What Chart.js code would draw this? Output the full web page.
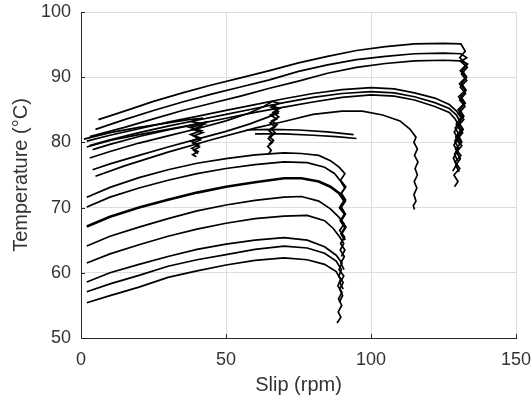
<!DOCTYPE html>
<html>
<head>
<meta charset="utf-8">
<script src="https://cdn.jsdelivr.net/npm/chart.js@4"></script>
<style>
  body { margin: 0; background: #fff; }
  canvas { display: block; }
</style>
</head>
<body>
<canvas id="slipChart" width="531" height="403"></canvas>
<script>
// axis ticks
const xTicks = [0, 50, 100, 150];
const yTicks = [50, 60, 70, 80, 90, 100];

// runs that stop at ~90 rpm (low start temps)
const low1 = [[2,55.4],[10,56.5],[20,57.8],[30,59.3],[40,60.3],[50,61.2],[60,61.9],[70,62.3],[78,62.0],[84,61.3],[88,60.2],[89.5,59],[88.6,58],[90,57],[88.8,56],[89.9,55],[88.7,54],[89.6,53.2],[88.3,52.3]];
const low2 = [[2,57.1],[10,58.3],[20,59.6],[30,61.0],[40,62.0],[50,62.8],[60,63.6],[70,64.1],[78,63.8],[84,63.0],[88,61.8],[89.8,60.5],[88.9,59.5],[90.4,58.5],[89.2,57.5],[90.2,56.5],[89.1,55.5]];
const low3 = [[2,58.6],[10,60.0],[20,61.3],[30,62.5],[40,63.6],[50,64.4],[60,65.0],[70,65.4],[78,65.0],[84,64.0],[88,62.7],[90,61.5],[89,60.5],[90.6,59.5],[89.3,58.5],[90.4,57.5]];
const low4 = [[2,61.5],[10,62.9],[20,64.3],[30,65.6],[40,66.7],[50,67.6],[60,68.3],[70,68.7],[78,68.8],[84,68.0],[87,66.8],[89.2,65.5],[90.6,64.5],[89.4,63.5],[90.8,62.5],[89.6,61.5],[90.7,60.5]];
const low5 = [[2,64.1],[10,65.6],[20,67.0],[30,68.3],[40,69.5],[50,70.4],[60,71.1],[70,71.6],[76,71.7],[82,71.0],[86,69.8],[89,68.5],[90.7,67.5],[89.2,66.5],[90.9,65.5],[89.5,64.5],[91,63.5],[89.8,62.5]];
const low6 = [[2,67.1],[10,68.6],[20,70.0],[30,71.2],[40,72.3],[50,73.2],[60,73.9],[70,74.5],[76,74.5],[82,74.0],[86,73.2],[89,72.2],[90.8,71],[89.3,70],[91,69],[89.6,68],[91.2,67],[89.8,66],[91,65]];
const low7 = [[2,70.1],[10,71.6],[20,73.0],[30,74.2],[40,75.2],[50,76.0],[60,76.6],[70,77.0],[78,76.9],[84,76.2],[87.5,75.2],[89.6,74],[91,73],[89.4,72],[91.2,71],[89.7,70],[91,69],[89.5,68],[90.8,67]];
const low8 = [[2,71.6],[10,73.1],[20,74.6],[30,75.8],[40,76.8],[50,77.5],[60,78.1],[70,78.4],[76,78.3],[82,78.0],[86,77.2],[89,76.2],[91,75.2],[89.5,74.2],[91.3,73.2],[89.8,72.2],[91.2,71.2],[89.6,70.2],[90.9,69.2]];

// runs that stop at ~131 rpm
const high1 = [[6,83.5],[15,84.8],[25,86.3],[35,87.6],[45,88.8],[55,89.9],[65,91.0],[75,92.2],[85,93.2],[95,94.1],[105,94.7],[115,95.1],[125,95.2],[131,95.1],[132.5,94],[130.6,93],[133,92],[130.8,91],[132.8,90],[130.5,89],[132.5,88],[130.2,87],[132.2,86],[130,85],[131.8,84],[129.8,83],[131.5,82],[129.6,81],[131.2,80],[129.2,79],[131,78],[129,77],[130.6,76],[128.6,75],[130,74],[128.8,73.2]];
const high2 = [[5,82.0],[15,83.5],[25,84.9],[35,86.2],[45,87.4],[55,88.5],[65,89.6],[75,90.9],[85,91.9],[95,92.7],[105,93.2],[115,93.6],[125,93.7],[131,93.6],[133,93],[131,92.4],[133.2,91.5],[131.2,90.5],[133,89.5],[130.8,88.5],[132.6,87.5],[130.6,86.5],[132.4,85.5],[130.3,84.5],[132,83.5],[130,82.5],[131.6,81.5],[129.8,80.5],[131.3,79.5],[129.5,78.5],[130.8,77.5],[129.2,76.5],[130.4,75.5]];
const high3 = [[3,80.9],[15,82.3],[25,83.6],[35,84.9],[45,86.0],[55,87.1],[65,88.3],[75,89.4],[85,90.6],[95,91.5],[105,92.1],[115,92.5],[125,92.6],[131,92.5],[133.3,92],[131.5,91],[133,90],[131.2,89],[132.8,88],[131,87],[132.5,86],[130.6,85],[132,84],[130.4,83],[131.8,82],[130.2,81],[131.4,80]];
const arch1 = [[2,80.2],[10,81.1],[20,82.1],[30,83.1],[40,84.0],[50,84.9],[60,85.8],[70,86.7],[80,87.5],[90,88.1],[100,88.4],[108,88.2],[115,87.6],[122,86.8],[127,85.8],[129.5,84.8],[131,83.8],[129.4,82.8],[130.8,81.8],[129.2,80.8],[130.4,79.8]];
const arch2 = [[3,79.5],[10,80.4],[20,81.5],[30,82.5],[40,83.4],[50,84.3],[60,85.2],[70,86.1],[80,86.9],[90,87.5],[100,87.8],[108,87.6],[115,87.0],[122,86.1],[127,85.2],[129.5,84.2],[130.6,83.2],[129,82.2],[130.4,81.2],[128.9,80.2],[130.1,79.2],[128.8,78.2],[129.8,77.2]];
const arch3 = [[4,78.9],[10,79.7],[20,80.9],[30,81.9],[40,82.8],[50,83.7],[60,84.6],[70,85.4],[80,86.2],[90,86.9],[100,87.3],[108,87.1],[115,86.5],[122,85.5],[127,84.6],[129,83.6],[130.2,82.6],[128.7,81.6],[130,80.6],[128.6,79.6],[129.8,78.6],[128.4,77.6],[129.5,76.6],[128.2,75.6]];

// runs that stop early (~40, ~65, ~115 rpm)
const stop40a = [[1,80.5],[10,81.5],[20,82.3],[30,83.0],[37,83.5],[42,83.7],[38,83.2],[42.5,82.8],[37.5,82.3],[41.5,81.8],[37.8,81.2],[41,80.7],[38,80.2],[40.6,79.6],[38.2,79.1],[40.3,78.6],[38.5,78.1],[39.8,77.8]];
const stop40b = [[2,79.3],[10,80.3],[20,81.2],[30,82.0],[36,82.5],[43,83.1],[41.5,82.5],[38.5,82],[42,81.5],[38.8,81],[41.2,80.4],[38.6,79.9],[40.8,79.3],[38.9,78.8],[40.4,78.3]];
const stop65a = [[3,77.6],[10,78.6],[20,79.9],[30,81.0],[40,82.1],[50,83.3],[58,84.5],[63,85.5],[66,86.3],[68.3,86],[65.5,85.4],[68,84.8],[65.3,84.2],[67.5,83.6],[65.2,83],[67,82.4],[64.8,81.8],[66.4,81.2],[64.6,80.6],[66,80],[64.4,79.4],[65.6,78.8],[64.6,78.2]];
const stop65b = [[4,75.8],[10,76.7],[20,78.0],[30,79.3],[40,80.5],[50,81.7],[58,82.8],[64,83.8],[68,84.5],[66,85.6],[68.4,85.2],[66.2,84.6],[68.2,83.9],[65.8,83.3],[67.6,82.7],[65.5,82.1],[66.9,81.5],[65,80.9],[66.4,80.3],[64.8,79.7]];
const stop116 = [[5,74.8],[15,76.4],[30,78.5],[45,80.4],[60,82.2],[70,83.2],[80,84.3],[90,84.8],[97,84.8],[104,84.2],[110,83.3],[113.5,82],[115.5,80.8],[114.8,80],[116,79],[115,78],[116.2,77],[115.2,76],[116,75],[114.9,74],[115.8,73],[114.8,72],[115.5,71],[114.6,70.3],[115,69.7]];
const short1 = [[57,81.9],[65,82.0],[75,81.9],[85,81.6],[94,81.2]];
const short2 = [[60,81.3],[70,81.3],[80,81.1],[88,80.9],[95,80.6]];

const runs = [low1, low2, low3, low4, low5, low6, low7, low8, high1, high2, high3,
  arch1, arch2, arch3, stop40a, stop40b, stop65a, stop65b, stop116, short1, short2];

const fontFamily = "'Liberation Sans', Arial, Helvetica, sans-serif";
const textColor = '#333333';

// MATLAB style inward tick marks on left and bottom axes
const innerTicks = {
  id: 'innerTicks',
  afterDraw(chart) {
    const ctx = chart.ctx;
    const area = chart.chartArea;
    ctx.save();
    ctx.strokeStyle = '#262626';
    ctx.lineWidth = 1;
    ctx.beginPath();
    xTicks.forEach(v => {
      const px = Math.round(chart.scales.x.getPixelForValue(v)) + 0.5;
      ctx.moveTo(px, area.bottom);
      ctx.lineTo(px, area.bottom - 4);
    });
    yTicks.forEach(v => {
      const py = Math.round(chart.scales.y.getPixelForValue(v)) + 0.5;
      ctx.moveTo(area.left, py);
      ctx.lineTo(area.left + 4, py);
    });
    ctx.stroke();
    ctx.restore();
  }
};

new Chart(document.querySelector('#slipChart'), {
  type: 'scatter',
  data: {
    datasets: runs.map(run => ({
      data: run.map(p => ({ x: p[0], y: p[1] })),
      showLine: true,
      borderColor: '#000000',
      borderWidth: run === low6 ? 2.6 : 1.7,
      pointRadius: 0,
      tension: 0
    }))
  },
  options: {
    responsive: false,
    animation: false,
    layout: { padding: { left: 5, top: 12, right: 15, bottom: 2 } },
    plugins: {
      legend: { display: false },
      tooltip: { enabled: false }
    },
    scales: {
      x: {
        type: 'linear',
        min: 0,
        max: 150,
        afterBuildTicks: scale => { scale.ticks = xTicks.map(v => ({ value: v })); },
        afterFit: scale => {
          scale.height = 63;
          scale.paddingLeft = 0;
          scale.paddingRight = 0;
        },
        grid: { color: '#dedede', drawTicks: false },
        border: { color: '#262626', width: 1 },
        ticks: { padding: 11, color: textColor, font: { family: fontFamily, size: 18 } },
        title: { display: true, text: 'Slip (rpm)', color: textColor, font: { family: fontFamily, size: 20 } }
      },
      y: {
        type: 'linear',
        min: 50,
        max: 100,
        afterBuildTicks: scale => { scale.ticks = yTicks.map(v => ({ value: v })); },
        afterFit: scale => {
          scale.width = 76;
          scale.paddingTop = 0;
          scale.paddingBottom = 0;
        },
        grid: { color: '#dedede', drawTicks: false },
        border: { color: '#262626', width: 1 },
        ticks: { padding: 10, color: textColor, font: { family: fontFamily, size: 18 } },
        title: { display: true, text: 'Temperature (°C)', color: textColor, font: { family: fontFamily, size: 20 } }
      }
    }
  },
  plugins: [innerTicks]
});
</script>
</body>
</html>
